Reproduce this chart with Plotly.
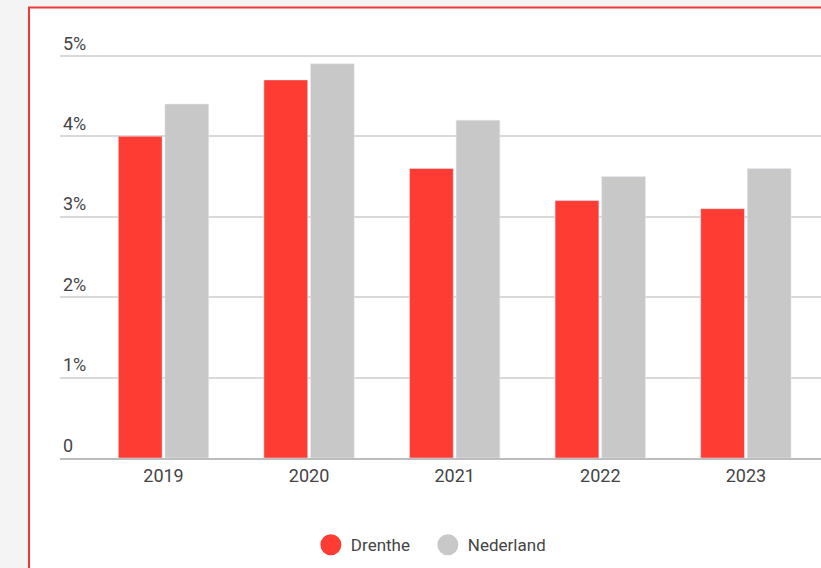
import plotly.graph_objects as go

years = ["2019", "2020", "2021", "2022", "2023"]
drenthe = [4.0, 4.7, 3.6, 3.2, 3.1]
nederland = [4.4, 4.9, 4.2, 3.5, 3.6]
series_names = ["Drenthe", "Nederland"]
tick_vals = [0, 1, 2, 3, 4, 5]
tick_text = ["0", "1%", "2%", "3%", "4%", "5%"]

RED = "#fe3c33"
GRAY = "#c8c8c8"
FONT = "Roboto"
TXT = "#444444"

fig = go.Figure()
fig.add_trace(go.Bar(x=years, y=drenthe, name=series_names[0], marker_color=RED,
                     showlegend=False, hoverinfo="x+y"))
fig.add_trace(go.Bar(x=years, y=nederland, name=series_names[1], marker_color=GRAY,
                     showlegend=False, hoverinfo="x+y"))
# legend entries with round swatches
for nm, col in zip(series_names, [RED, GRAY]):
    fig.add_trace(go.Scatter(x=[None], y=[None], mode="markers", name=nm,
                             marker=dict(symbol="circle", size=26, color=col,
                                         line=dict(color=col, width=5))))

fig.update_layout(
    width=821, height=568,
    margin=dict(l=60, r=0, t=22, b=110),
    paper_bgcolor="#f4f4f4",
    plot_bgcolor="rgba(0,0,0,0)",
    barmode="group",
    bargap=0.36,
    bargroupgap=0.06,
    font=dict(family=FONT, size=18, color=TXT),
    showlegend=True,
    legend=dict(orientation="h", x=0.4834, xanchor="center", y=-0.2, yanchor="middle",
                font=dict(family=FONT, size=17, color=TXT),
                entrywidth=72, entrywidthmode="pixels",
                bgcolor="rgba(0,0,0,0)", itemclick=False),
    xaxis=dict(type="category", range=[-0.711, 4.516], showgrid=False,
               showline=True, linecolor="#bdbdbd", linewidth=2,
               ticks="", tickfont=dict(family=FONT, size=18, color=TXT),
               fixedrange=True),
    yaxis=dict(range=[0, 5.42], tickvals=tick_vals, ticktext=tick_text,
               ticklabelposition="inside top", showgrid=True, gridcolor="#d9d9d9",
               gridwidth=2, zeroline=False, ticks="",
               tickfont=dict(family=FONT, size=18, color=TXT),
               fixedrange=True),
    shapes=[dict(type="rect", xref="paper", yref="paper", layer="below",
                 x0=-0.0407, x1=1.2, y0=-0.6, y1=1.033,
                 fillcolor="white", line=dict(color="#e9393b", width=2))],
)

fig.write_html("out.html", config={"displayModeBar": False},
               post_script="document.body.style.margin='0px';document.body.style.overflow='hidden';")
